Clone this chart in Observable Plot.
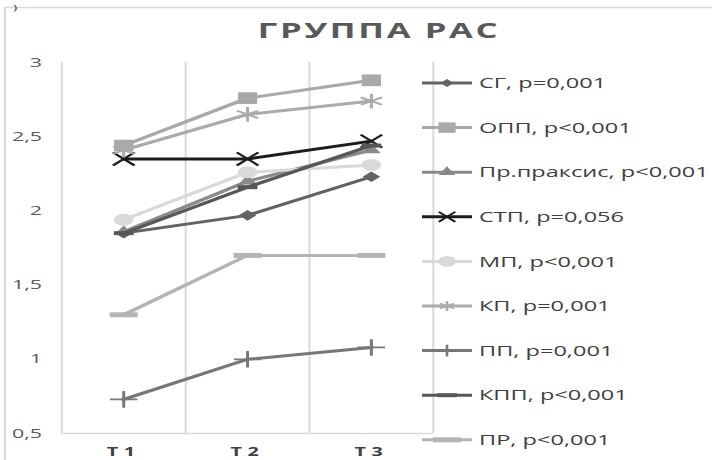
<!DOCTYPE html>
<html><head><meta charset="utf-8">
<script src="https://cdn.jsdelivr.net/npm/d3@7"></script>
<script src="https://cdn.jsdelivr.net/npm/@observablehq/plot@0.6"></script>
<style>
body{margin:0;background:#fff}
#chart{position:relative;width:712px;height:460px;overflow:hidden;background:#fff}
</style>
</head><body><div id="chart"></div>
<script>
// ---------- data ----------
const title = "ГРУППА РАС";
const categories = ["T1", "T2", "T3"];
const seriesNames = [
  "СГ, p=0,001",
  "ОПП, p<0,001",
  "Пр.праксис, p<0,001",
  "СТП, p=0,056",
  "МП, p<0,001",
  "КП, p=0,001",
  "ПП, p=0,001",
  "КПП, p<0,001",
  "ПР, p<0,001"
];
const sgValues     = [1.85, 1.97, 2.23];
const oppValues    = [2.44, 2.76, 2.88];
const praxisValues = [1.86, 2.20, 2.41];
const stpValues    = [2.35, 2.35, 2.47];
const mpValues     = [1.94, 2.26, 2.31];
const kpValues     = [2.41, 2.65, 2.74];
const ppValues     = [0.73, 1.00, 1.08];
const kppValues    = [1.85, 2.16, 2.44];
const prValues     = [1.30, 1.70, 1.70];
const seriesValues = [sgValues, oppValues, praxisValues, stpValues, mpValues, kpValues, ppValues, kppValues, prValues];
const yTicks = [0.5, 1, 1.5, 2, 2.5, 3];

// ---------- styles ----------
const seriesColors = ["#636363", "#a9a9a9", "#8a8a8a", "#1c1c1c", "#d9d9d9", "#ababab", "#777777", "#575757", "#b4b4b4"];
const dash = (w, h) => ({draw(ctx) {
  ctx.moveTo(-w / 2, -h / 2); ctx.lineTo(w / 2, -h / 2); ctx.lineTo(w / 2, h / 2); ctx.lineTo(-w / 2, h / 2); ctx.closePath();
}});
const markers = [
  {symbol: d3.symbolDiamond2, r: 4.8, filled: true, legendScale: 0.55},
  {symbol: d3.symbolSquare, r: 6.6, filled: true, legendScale: 0.8},
  {symbol: d3.symbolTriangle, r: 4.2, filled: true, legendScale: 0.8},
  {symbol: d3.symbolTimes, r: 6.0, filled: false, legendScale: 0.6},
  {symbol: d3.symbolCircle, r: 6.0, filled: true, legendScale: 0.8},
  {symbol: d3.symbolAsterisk, r: 7.0, filled: false, legendScale: 0.45},
  {symbol: d3.symbolPlus, r: 5.4, filled: false, legendScale: 0.5},
  {symbol: dash(12, 4), r: 1, filled: true, legendScale: 1},
  {symbol: dash(17, 5), r: 1, filled: true, legendScale: 1}
];

// ---------- layout (internal coords, stretched horizontally afterwards) ----------
const OUT_W = 712, H = 460, W = 432, S = OUT_W / W;

const rows = seriesNames.flatMap((name, s) =>
  categories.map((c, i) => ({series: name, s, cat: c, xi: i + 0.5, value: seriesValues[s][i]})));

const seriesMarks = seriesNames.flatMap((name, s) => {
  const data = rows.filter(d => d.s === s);
  const m = markers[s];
  return [
    Plot.line(data, {x: "xi", y: "value", stroke: seriesColors[s], strokeWidth: 3}),
    Plot.dot(data, {
      x: "xi", y: "value", symbol: m.symbol, r: m.r,
      fill: m.filled ? seriesColors[s] : "none",
      stroke: m.filled ? "none" : seriesColors[s],
      strokeWidth: m.filled ? 0 : 1.8
    })
  ];
});

const plot = Plot.plot({
  width: W, height: H,
  marginLeft: 37, marginRight: W - 262.4, marginTop: 62, marginBottom: 27,
  x: {domain: [0, categories.length]},
  y: {domain: [0.5, 3]},
  style: {fontFamily: "'Open Sans', sans-serif", background: "transparent", overflow: "visible"},
  marks: [
    Plot.ruleX(d3.range(categories.length + 1), {stroke: "#d9d9d9", strokeWidth: 1.2}),
    Plot.ruleY([0.5], {stroke: "#d9d9d9", strokeWidth: 1.6}),
    Plot.axisY({ticks: yTicks, tickSize: 0, tickPadding: 12, tickFormat: d => String(d).replace(".", ","),
      fontSize: 13, fill: "#595959", label: null}),
    Plot.axisX({ticks: categories.map((c, i) => i + 0.5), tickSize: 0, tickPadding: 14,
      tickFormat: d => categories[Math.floor(d)], fontSize: 12, fontWeight: "bold", fill: "#404040", label: null}),
    ...seriesMarks
  ]
});

const svg = d3.select(plot);
svg.attr("width", OUT_W).attr("height", H).attr("preserveAspectRatio", "none")
  .style("width", OUT_W + "px").style("height", H + "px").style("max-width", "none");

svg.selectAll('[aria-label="x-axis tick label"] text').attr("letter-spacing", 3.4);

// outer frame
svg.insert("path", ":first-child").attr("d", `M3,${H} V7.5 H${W}`)
  .attr("fill", "none").attr("stroke", "#d9d9d9").attr("stroke-width", 1.3);
svg.append("text").attr("x", 8).attr("y", 10).attr("text-anchor", "start")
  .attr("font-size", 8).attr("fill", "#222").text(")");

// title
svg.append("text").attr("x", 230).attr("y", 38).attr("text-anchor", "middle")
  .attr("font-size", 21).attr("font-weight", "bold").attr("letter-spacing", 1.6)
  .attr("fill", "#595959").text(title);

// legend
const lg = svg.append("g").attr("font-family", "'Open Sans', sans-serif").attr("text-anchor", "start");
const ly0 = 83, lstep = 44.6, lx1 = 422 / S, lx2 = 472 / S, lxm = 447 / S, ltx = 479 / S;
seriesNames.forEach((name, s) => {
  const y = ly0 + s * lstep, m = markers[s];
  lg.append("line").attr("x1", lx1).attr("x2", lx2).attr("y1", y).attr("y2", y)
    .attr("stroke", seriesColors[s]).attr("stroke-width", 3);
  lg.append("path").attr("transform", `translate(${lxm},${y})`)
    .attr("d", d3.symbol(m.symbol, Math.PI * m.r * m.r * m.legendScale)())
    .attr("fill", m.filled ? seriesColors[s] : "none")
    .attr("stroke", m.filled ? "none" : seriesColors[s]).attr("stroke-width", m.filled ? 0 : 1.6);
  lg.append("text").attr("x", ltx).attr("y", y).attr("dy", "0.36em").attr("text-anchor", "start")
    .attr("font-size", 14.3).attr("fill", "#404040").text(name);
});

document.getElementById("chart").appendChild(plot);
</script>
</body></html>
